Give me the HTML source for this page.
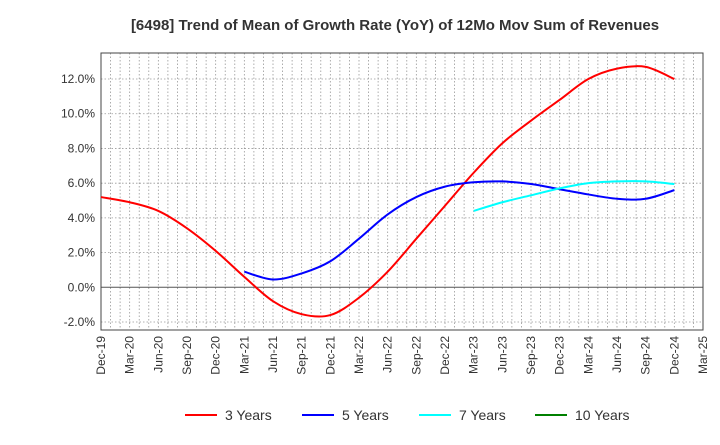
<!DOCTYPE html>
<html><head><meta charset="utf-8"><style>
body{margin:0;background:#fff;font-family:"Liberation Sans",sans-serif}
</style></head><body>
<svg id="chart" width="720" height="440" xmlns="http://www.w3.org/2000/svg" font-family="Liberation Sans, sans-serif">
<text x="395" y="30" text-anchor="middle" font-size="15" font-weight="bold" fill="#333">[6498]  Trend of Mean of Growth Rate (YoY) of 12Mo Mov Sum of Revenues</text>
<g id="grid"></g><g id="axes"></g><g id="series"></g><g id="legend"></g>
</svg>
<script>
const xLabels=["Dec-19","Mar-20","Jun-20","Sep-20","Dec-20","Mar-21","Jun-21","Sep-21","Dec-21","Mar-22","Jun-22","Sep-22","Dec-22","Mar-23","Jun-23","Sep-23","Dec-23","Mar-24","Jun-24","Sep-24","Dec-24","Mar-25"];
const yTicks=[-2,0,2,4,6,8,10,12];
const seriesNames=["3 Years","5 Years","7 Years","10 Years"];
const seriesColors=["#ff0000","#0000ff","#00ffff","#008000"];
const y3=[5.2,4.9,4.4,3.4,2.1,0.6,-0.8,-1.55,-1.6,-0.6,0.9,2.8,4.7,6.6,8.3,9.6,10.8,12.0,12.6,12.7,12.0];
const y3Start=0;
const y5=[0.9,0.45,0.8,1.5,2.8,4.2,5.2,5.8,6.05,6.1,5.95,5.65,5.35,5.1,5.1,5.6];
const y5Start=5;
const y7=[4.4,4.9,5.3,5.7,6.0,6.1,6.1,5.95];
const y7Start=13;
const y10=[];
const y10Start=0;
const NS="http://www.w3.org/2000/svg";
const L=101,R=703,T=53,B=330,yMin=-2.46,yMax=13.5,nMonths=63;
const xq=i=>L+(i*3)*(R-L)/nMonths;
const xm=m=>L+m*(R-L)/nMonths;
const ys=v=>B-(v-yMin)*(B-T)/(yMax-yMin);
function mk(t,a,p){const e=document.createElementNS(NS,t);for(const k in a)e.setAttribute(k,a[k]);(p||document.getElementById('chart')).appendChild(e);return e;}
const grid=document.getElementById('grid'),axes=document.getElementById('axes'),ser=document.getElementById('series'),leg=document.getElementById('legend');
mk('rect',{x:L,y:T,width:R-L,height:B-T,fill:'#fff'},grid);
for(let m=1;m<nMonths;m++){const l=mk('line',{x1:xm(m),x2:xm(m),y1:T,y2:B,stroke:'#999','stroke-width':0.8,'stroke-dasharray':'1.5,2'},grid);
}
yTicks.forEach(v=>{const y=ys(v);const l=mk('line',{x1:L,x2:R,y1:y,y2:y,stroke:v===0?'#555':'#999','stroke-width':v===0?1:0.8,'stroke-dasharray':v===0?'':'1.5,2'},grid);

const t=mk('text',{x:L-6,y:y+4,'text-anchor':'end','font-size':12,fill:'#333'},axes);t.textContent=v.toFixed(1)+'%';
});
const fr=mk('rect',{x:L,y:T,width:R-L,height:B-T,fill:'none',stroke:'#444','stroke-width':1},axes);

xLabels.forEach((s,i)=>{const x=xq(i),y=B+6;const t=mk('text',{x:x+4,y:y,'text-anchor':'end','font-size':12,fill:'#333',transform:`rotate(-90 ${x+4} ${y})`},axes);t.textContent=s;
});
function path(vals,start){if(!vals.length)return '';const p=vals.map((v,i)=>[xq(start+i),ys(v)]);let d=`M${p[0][0]},${p[0][1]}`;
for(let i=0;i<p.length-1;i++){const p0=p[i-1]||p[i],p1=p[i],p2=p[i+1],p3=p[i+2]||p2;
d+=` C${p1[0]+(p2[0]-p0[0])/6},${p1[1]+(p2[1]-p0[1])/6} ${p2[0]-(p3[0]-p1[0])/6},${p2[1]-(p3[1]-p1[1])/6} ${p2[0]},${p2[1]}`;}return d;}
[[y3,y3Start],[y5,y5Start],[y7,y7Start],[y10,y10Start]].forEach((s,k)=>{if(!s[0].length)return;
const e=mk('path',{d:path(s[0],s[1]),fill:'none',stroke:seriesColors[k],'stroke-width':2},ser);
});
const lx=[185,302,419,535];
seriesNames.forEach((n,k)=>{const g=mk('g',{},leg);

mk('line',{x1:lx[k],x2:lx[k]+32,y1:415,y2:415,stroke:seriesColors[k],'stroke-width':2},g);
const t=mk('text',{x:lx[k]+40,y:420,'font-size':14,fill:'#333'},g);t.textContent=n;});
</script>
</body></html>
